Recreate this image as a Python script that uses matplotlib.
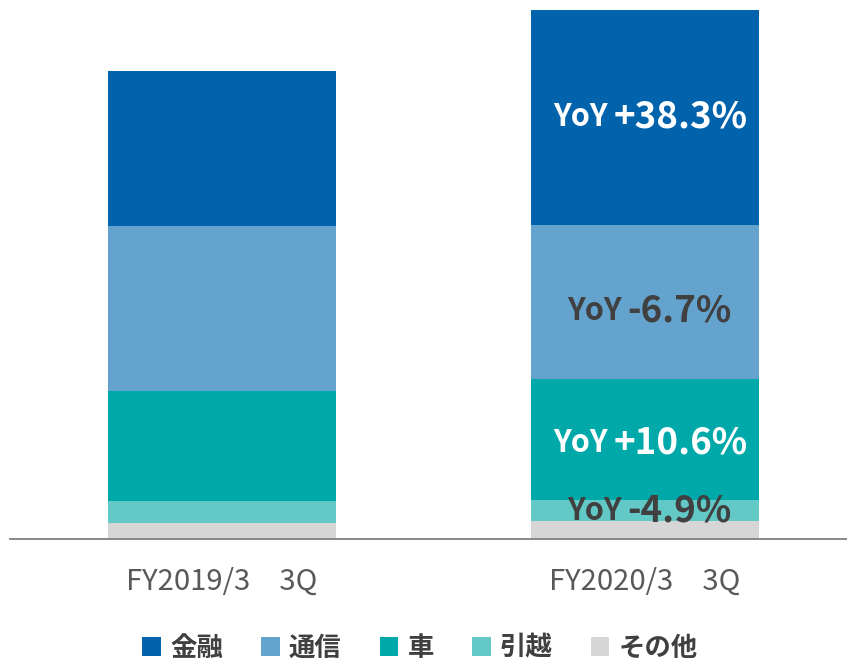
import matplotlib.pyplot as plt

plt.rcParams['font.family'] = ['Noto Sans CJK JP', 'DejaVu Sans']

periods = ['FY2019/3\u30003Q', 'FY2020/3\u30003Q']
segments = ['その他', '引越', '車', '通信', '金融']
colors = ['#D6D6D6', '#63C9C6', '#00A9A9', '#65A3CF', '#0063AC']
values = {
    'その他': [16, 18],
    '引越': [22, 21],
    '車': [110, 121],
    '通信': [165, 154],
    '金融': [155, 215],
}
yoy = {
    '金融': '+38.3%',
    '通信': '-6.7%',
    '車': '+10.6%',
    '引越': '-4.9%',
}
yoy_color = {'金融': 'white', '通信': '#404040', '車': 'white', '引越': '#404040'}

fig = plt.figure(figsize=(8.47, 6.64), dpi=100)
ax = fig.add_axes([10 / 847, 125 / 664, 837 / 847, 529 / 664])

x = [0, 1]
bottom = [0, 0]
bars = {}
for seg, c in zip(segments, colors):
    bars[seg] = ax.bar(x, values[seg], 0.54, bottom=bottom, color=c, label=seg)
    bottom = [b + v for b, v in zip(bottom, values[seg])]

# YoY labels on the second bar
split = {'金融': 0.912, '通信': 0.945, '車': 0.912, '引越': 0.945}
shift = {'金融': 0, '通信': -9, '車': -4, '引越': -1}
for seg in ['金融', '通信', '車', '引越']:
    y = sum(values[s][1] for s in segments[:segments.index(seg)]) + values[seg][1] / 2
    y += shift[seg]
    ax.text(split[seg], y, 'YoY', ha='right', va='center', fontsize=22,
            fontweight='bold', color=yoy_color[seg])
    ax.text(split[seg] + 0.015, y, yoy[seg], ha='left', va='center', fontsize=26.5,
            fontweight='bold', color=yoy_color[seg])

ax.set_xlim(-0.502, 1.479)
ax.set_ylim(0, 529)
ax.set_xticks(x)
ax.set_xticklabels(periods, fontsize=21, color='#595959')
ax.tick_params(axis='x', length=0, pad=20)
ax.set_yticks([])
for s in ['top', 'right', 'left']:
    ax.spines[s].set_visible(False)
ax.spines['bottom'].set_color('#7F7F7F')
ax.spines['bottom'].set_linewidth(1.3)

handles = [bars[s] for s in ['金融', '通信', '車', '引越', 'その他']]
leg = fig.legend(handles, ['金融', '通信', '車', '引越', 'その他'], loc='center',
                 bbox_to_anchor=(420 / 847, 1 - 648 / 664), ncol=5, frameon=False,
                 handlelength=0.7, handleheight=0.7, handletextpad=0.35,
                 columnspacing=1.45, prop={'size': 19, 'weight': 'bold'})
for t in leg.get_texts():
    t.set_color('#404040')

fig.savefig('out.png', dpi=100)
